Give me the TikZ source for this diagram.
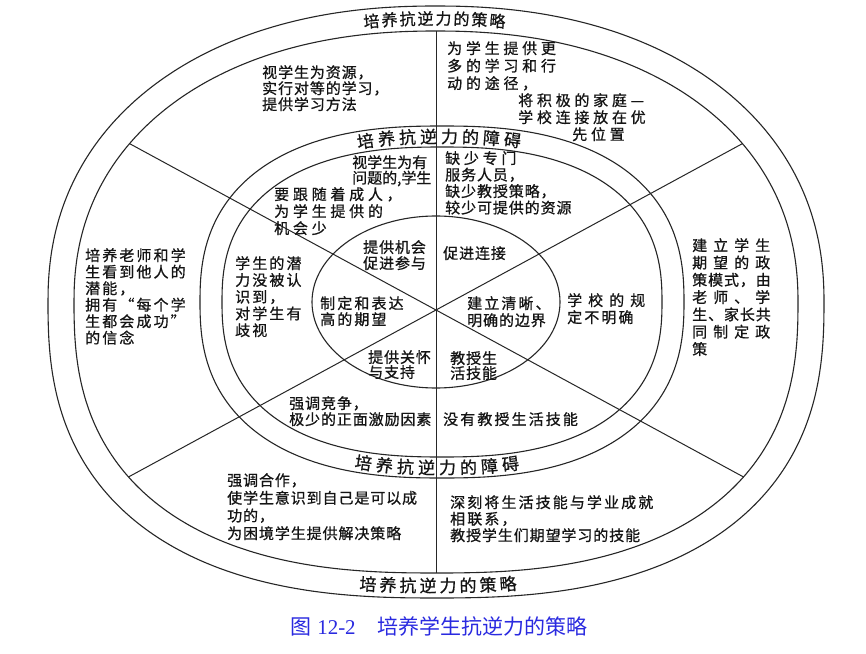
\documentclass[tikz,border=0pt]{standalone}
\usepackage{fontspec}
\newfontfamily\cjk[FakeBold=0.8]{Noto Sans CJK SC}
\newfontfamily\cjkn[LetterSpace=6, FakeBold=0.8]{Noto Sans CJK SC}
\newfontfamily\cjkm[LetterSpace=14, FakeBold=0.8]{Noto Sans CJK SC}
\newfontfamily\cjkw[LetterSpace=25, FakeBold=0.8]{Noto Sans CJK SC}
\newfontfamily\cjkx[LetterSpace=40, FakeBold=0.8]{Noto Sans CJK SC}
\newfontfamily\cjkcap{Noto Sans CJK SC}
\newfontfamily\capdigits{Liberation Serif}
\usepackage{tikz}
\usetikzlibrary{positioning}
\definecolor{inkline}{HTML}{262626}
\definecolor{inktext}{HTML}{141414}
\definecolor{capblue}{HTML}{2A2AE0}
\tikzstyle{ring} = [draw=inkline, line width=1.1pt]
\tikzstyle{spoke} = [draw=inkline, line width=1pt]
\tikzstyle{note} = [inner sep=0pt, align=left, text=inktext, anchor=north west]
\tikzstyle{band} = [inner sep=0pt, text=inktext, font=\fontsize{17}{17}\selectfont\cjk]
% rounded ring: cx, cy, a, b, exponent top, exponent bottom
\newcommand{\ringcurve}[6]{plot[smooth cycle, domain=1:358, samples=120, variable=\q]
  ({#1+#3*cos(\q)*pow(abs(cos(\q)),2/(#6+(#5-#6)*(sin(\q)>0))-1)},
   {#2+#4*sin(\q)*pow(abs(sin(\q)),2/(#6+(#5-#6)*(sin(\q)>0))-1)})}

\begin{document}
\begin{tikzpicture}[x=1pt, y=1pt]
  \useasboundingbox[fill=white] (-436,-351) rectangle (430,302);

  % rings
  \draw[ring] \ringcurve{0}{0}{388}{296}{2.2}{2.5};
  \draw[ring] \ringcurve{0}{0}{362}{271}{2.2}{2.5};
  \draw[ring] \ringcurve{6}{0}{242}{176}{2.45}{2.45};
  \draw[ring] \ringcurve{6}{0}{220}{155}{2.45}{2.45};
  \draw[ring] (0,0) ellipse [x radius=124, y radius=86];

  % spokes
  \coordinate (hub) at (0,-8);
  \begin{scope}
    \clip \ringcurve{0}{0}{362}{271}{2.2}{2.5};
    \draw[spoke] ([yshift=320]hub) -- ([yshift=-320]hub);
    \draw[spoke] ([shift={(28.5:520)}]hub) -- ([shift={(208.5:520)}]hub);
    \draw[spoke] ([shift={(151.5:520)}]hub) -- ([shift={(-28.5:520)}]hub);
  \end{scope}

  % curved band titles
  \foreach \ch [count=\i] in {培,养,抗,逆,力,的,策,略}{
    \pgfmathsetmacro\px{-1.5+18*(\i-4.5)}
    \pgfmathsetmacro\py{283.5*pow(1-pow(abs(\px)/375,2.2),1/2.2)}
    \pgfmathsetmacro\pr{-atan((283.5/375)*(\px/375)*pow(abs(\px)/375,0.2)/pow(\py/283.5,1.2))}
    \node[band, font=\fontsize{16}{16}\selectfont\cjk, rotate=\pr] (tt\i) at (\px,\py) {\ch};
  }
  \foreach \ch [count=\i] in {培,养,抗,逆,力,的,策,略}{
    \pgfmathsetmacro\px{2+20*(\i-4.5)}
    \pgfmathsetmacro\py{283.5*pow(1-pow(abs(\px)/375,2.5),1/2.5)}
    \pgfmathsetmacro\pr{atan((283.5/375)*(\px/375)*pow(abs(\px)/375,0.5)/pow(\py/283.5,1.5))}
    \node[band, rotate=\pr] (tb\i) at (\px,-\py) {\ch};
  }
  \foreach \ch [count=\i] in {培,养,抗,逆,力,的,障,碍}{
    \pgfmathsetmacro\px{-3+21*(\i-4.5)}
    \pgfmathsetmacro\py{165.5*pow(1-pow(abs(\px)/231,2.45),1/2.45)}
    \pgfmathsetmacro\pr{-atan((165.5/231)*(\px/231)*pow(abs(\px)/231,0.45)/pow(\py/165.5,1.45))}
    \node[band, rotate=\pr] (bt\i) at (6+\px,\py) {\ch};
  }
  \foreach \ch [count=\i] in {培,养,抗,逆,力,的,障,碍}{
    \pgfmathsetmacro\px{-5+21*(\i-4.5)}
    \pgfmathsetmacro\py{165.5*pow(1-pow(abs(\px)/231,2.45),1/2.45)}
    \pgfmathsetmacro\pr{atan((165.5/231)*(\px/231)*pow(abs(\px)/231,0.45)/pow(\py/165.5,1.45))}
    \node[band, rotate=\pr] (bb\i) at (6+\px,-\py) {\ch};
  }

  % outer ring: strategies
  \node[note, font=\fontsize{15}{16}\selectfont\cjkn] (resource) at (-174,237)
    {视学生为资源，\\实行对等的学习，\\提供学习方法};
  \node[note, font=\fontsize{15}{17.5}\selectfont\cjkw] (routes) at (11,261)
    {为学生提供更\\多的学习和行\\动的途径，};
  \node[note, font=\fontsize{15}{17}\selectfont\cjkw] (family) at (82,209)
    {将积极的家庭—\\学校连接放在优\\\hspace*{54pt}先位置};
  \node[note, font=\fontsize{15}{16.5}\selectfont\cjkm] (potential) at (-351,54)
    {培养老师和学\\生看到他人的\\潜能，\\拥有“每个学\\生都会成功”\\的信念};
  \node[note, font=\fontsize{15}{17.3}\selectfont\cjkn] (policy) at (256,64)
    {{\cjkx 建立学生}\\{\cjkx 期望的政}\\策模式，由\\{\cjkx 老师、学}\\生、家长共\\{\cjkx 同制定政}\\策};
  \node[note, font=\fontsize{15}{17.7}\selectfont\cjkn] (cooperate) at (-209,-171)
    {强调合作，\\使学生意识到自己是可以成\\功的，\\为困境学生提供解决策略};
  \node[note, font=\fontsize{15}{16.5}\selectfont\cjkm] (lifeskill) at (14,-193)
    {深刻将生活技能与学业成就\\相联系，\\{\cjkn 教授学生们期望学习的技能}};

  % inner ring: barriers
  \node[note, font=\fontsize{15}{15.5}\selectfont\cjk] (problem) at (-84,147)
    {视学生为有\\问题的,学生};
  \node[note, font=\fontsize{15}{17}\selectfont\cjkw] (follow) at (-162,115)
    {要跟随着成人，\\为学生提供的\\机会少};
  \node[note, font=\fontsize{15}{16.5}\selectfont\cjkn] (staff) at (9,151)
    {{\cjkw 缺少专门}\\服务人员，\\缺少教授策略，\\较少可提供的资源};
  \node[note, font=\fontsize{15}{16.75}\selectfont\cjkm] (unseen) at (-201,46)
    {学生的潜\\力没被认\\识到，\\对学生有\\歧视};
  \node[note, font=\fontsize{15}{17}\selectfont\cjkn] (rules) at (131,9)
    {{\cjkx 学校的规}\\{\cjkm 定不明确}};
  \node[note, font=\fontsize{15}{16}\selectfont\cjkn] (compete) at (-147,-94)
    {强调竞争，\\极少的正面激励因素};
  \node[note, font=\fontsize{15}{16}\selectfont\cjkm] (noskill) at (7,-110)
    {没有教授生活技能};

  % centre
  \node[note, font=\fontsize{15}{16}\selectfont\cjkn] (chance) at (-73,62)
    {提供机会\\促进参与};
  \node[note, font=\fontsize{15}{16}\selectfont\cjkn] (connect) at (7,56)
    {促进连接};
  \node[note, font=\fontsize{15}{16}\selectfont\cjkm] (expect) at (-116,6)
    {制定和表达\\高的期望};
  \node[note, font=\fontsize{15}{17}\selectfont\cjkn] (bounds) at (31,6)
    {{\cjkm 建立清晰、}\\明确的边界};
  \node[note, font=\fontsize{15}{15}\selectfont\cjkn] (care) at (-68,-48)
    {提供关怀\\与支持};
  \node[note, font=\fontsize{15}{15}\selectfont\cjkn] (teach) at (14,-49)
    {教授生\\活技能};

  % caption
  \node[inner sep=0pt, text=capblue, font=\fontsize{21}{21}\selectfont\cjkcap] (caption) at (3,-324)
    {图\hspace{6pt}{\capdigits 12-2}\hspace{22pt}培养学生抗逆力的策略};
\end{tikzpicture}
\end{document}
